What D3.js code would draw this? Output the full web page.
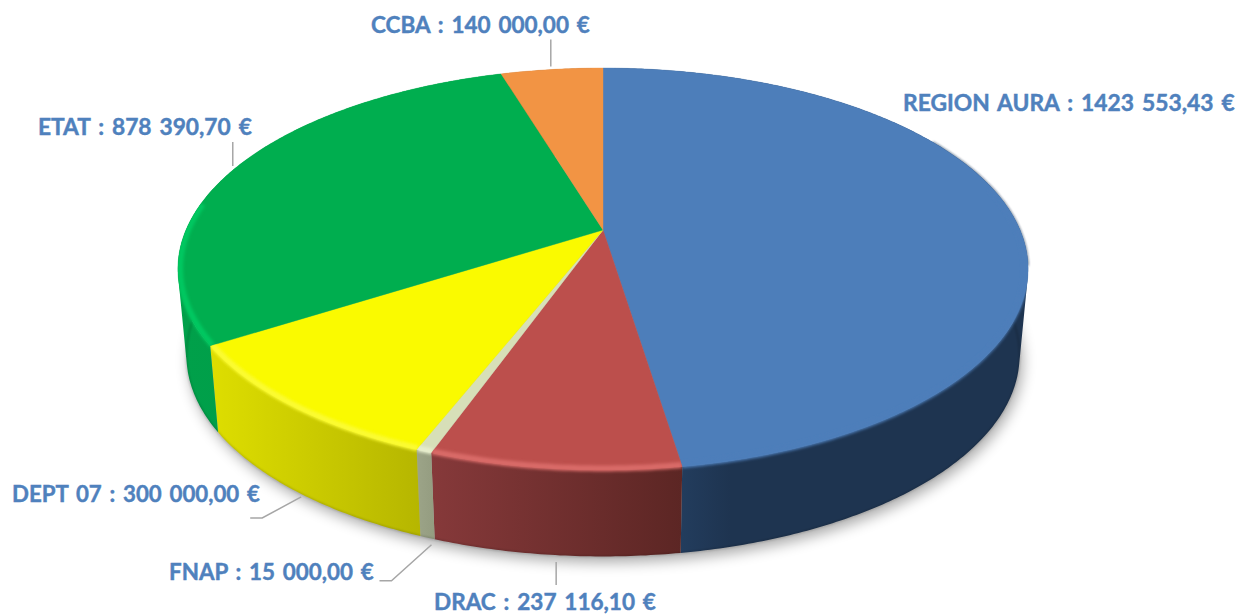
<!DOCTYPE html>
<html>
<head>
<meta charset="utf-8">
<style>html,body{margin:0;padding:0;background:#fff;overflow:hidden}svg{display:block}</style>
<script src="https://cdn.jsdelivr.net/npm/d3@7"></script>
</head>
<body>
<svg id="c" width="1238" height="614"></svg>
<script>
// ---- data ----
const categories = ["REGION AURA","DRAC","FNAP","DEPT 07","ETAT","CCBA"];
const amounts    = [1423553.43,237116.10,15000,300000,878390.70,140000];
const amountText = ["1423 553,43 €","237 116,10 €","15 000,00 €","300 000,00 €","878 390,70 €","140 000,00 €"];

// ---- style ----
const faceColors = ["#4d7eba","#bc4f4c","#d7dfb8","#fafa00","#00ae4f","#f29444"];
const rimColors  = ["#4d7eba","#d96a68","#e6edcc","#fbfb30","#00c860","#f29444"];
const sideStops  = [["#2a4a72","#1e3450"],["#86393a","#5c2624"],["#9ca488","#949c80"],["#dede00","#b6b600"],["#00a04a","#009a45"],["#b06a30","#b06a30"]];

// ---- layout ----
const W=1238, H=614;
const cx=603, cy=230, k=0.194, bx=417, by=193.4, depth=86.5, bottomScale=0.98;
const labelBoxes = [ // [left, right, baseline]
 [903,1235,111],[434,656,610],[169,374,580],[12,260,502],[38,252,135],[371,590,33]];
const leaders = [ // bends relative to the mid-angle anchor on the rim; onBase = anchor lies on bottom rim
 null,
 {onBase:true, pts:[[1,7],[1,30]]},
 {onBase:true, pts:[[4,7],[-36,43],[-48,43]]},
 {onBase:true, pts:[[4,5],[-35,26],[-47,26]]},
 {onBase:false,pts:[[-4,-1],[-4,-25]]},
 {onBase:false,pts:[[-1,-3],[-1,-30]]}];

const svg=d3.select("#c");
const defs=svg.append("defs");
const addBlur=(id,s)=>defs.append("filter").attr("id",id)
  .attr("filterUnits","userSpaceOnUse")
  .attr("x",0).attr("y",0).attr("width",W).attr("height",H)
  .append("feGaussianBlur").attr("stdDeviation",s);
addBlur("shadow",7); addBlur("rim",1.6); addBlur("edge",0.8);

const arcs=d3.pie().sort(null).value(d=>d)(amounts);

// Perspective projection of the unit disc to the picture plane
function topPt(a,r=1){
  const u=r*Math.sin(a), v=-r*Math.cos(a), d=1-k*v;
  return [cx+bx*u/d, cy+by*v/d];
}
function basePt(a){
  const p=topPt(a);
  return [cx+(p[0]-cx)*bottomScale, p[1]+depth];
}
const sample=(a0,a1,f,r)=>{
  const n=Math.max(2,Math.ceil((a1-a0)/0.01));
  return d3.range(n+1).map(i=>f(a0+(a1-a0)*i/n,r));
};
const pathLine=d3.line();
const orient=p=>d3.polygonArea(p)<0?p.slice().reverse():p;

// Wall of a slice as a union of small swept quads, so the silhouette stays solid
function wallPath(d){
  const t=sample(d.startAngle,d.endAngle,topPt), b=sample(d.startAngle,d.endAngle,basePt);
  return d3.range(t.length-1).map(i=>{
    const hull=d3.polygonHull([t[i],t[i+1],b[i+1],b[i]]);
    return hull?pathLine(orient(hull))+"Z":"";
  }).join("");
}
const facePath=d=>pathLine(orient([[cx,cy]].concat(sample(d.startAngle,d.endAngle,topPt))))+"Z";

// Ground shadow
svg.append("path")
  .attr("d",pathLine(sample(0,2*Math.PI,basePt))+"Z")
  .attr("transform","translate(3,6)")
  .attr("fill","#000").attr("opacity",0.33).attr("filter","url(#shadow)");

// Side gradients
arcs.forEach((d,i)=>{
  const g=defs.append("linearGradient").attr("id","side"+i)
    .attr("x1",0).attr("x2",1).attr("y1",0).attr("y2",0);
  const s=sideStops[i];
  if(i===0){
    g.append("stop").attr("offset",0.0).attr("stop-color",s[0]);
    g.append("stop").attr("offset",0.3).attr("stop-color",s[1]);
    g.append("stop").attr("offset",1).attr("stop-color",s[1]);
  } else {
    g.append("stop").attr("offset",0).attr("stop-color",s[0]);
    g.append("stop").attr("offset",1).attr("stop-color",s[1]);
  }
});

// Side walls
svg.append("g").selectAll("path").data(arcs).join("path")
  .attr("d",wallPath)
  .attr("fill",(d,i)=>`url(#side${i})`);

// Dark lower edge of the wall
svg.append("g").selectAll("path").data(arcs.slice(0,5)).join("path")
  .attr("d",d=>pathLine(sample(Math.max(d.startAngle,1.6),d.endAngle,basePt)))
  .attr("fill","none").attr("stroke","#000").attr("stroke-opacity",0.22)
  .attr("stroke-width",1.4).attr("filter","url(#edge)");

// Dark outer fringe on the far right of the disc
svg.append("path")
  .attr("d",pathLine(sample(arcs[0].startAngle+1.05,arcs[0].startAngle+1.75,topPt)))
  .attr("fill","none").attr("stroke","#1e3450").attr("stroke-width",1.6)
  .attr("stroke-opacity",0.7).attr("filter","url(#edge)");

// Top faces
svg.append("g").selectAll("path").data(arcs).join("path")
  .attr("d",facePath)
  .attr("fill",(d,i)=>faceColors[i])
  .attr("stroke",(d,i)=>faceColors[i]).attr("stroke-width",0.4);

// Soft bevel on the near rim
const nearStart=1.35, nearEnd=4.85;
const rimGroup=svg.append("g");
arcs.forEach((d,i)=>{
  const a0=Math.max(d.startAngle,nearStart), a1=Math.min(d.endAngle,nearEnd);
  if(a1<=a0) return;
  const cid="clipr"+i;
  defs.append("clipPath").attr("id",cid).append("path")
    .attr("d",facePath(d)+wallPath(d));
  rimGroup.append("path")
    .attr("clip-path",`url(#${cid})`)
    .attr("d",pathLine(sample(a0,a1,topPt,0.995)))
    .attr("fill","none").attr("stroke",rimColors[i]).attr("stroke-width",6)
    .attr("filter","url(#rim)");
});

// Leader lines, anchored to each slice's mid angle
svg.append("g").selectAll("path").data(arcs.map((d,i)=>({d,l:leaders[i]})).filter(o=>o.l)).join("path")
  .attr("d",o=>{
    const mid=(o.d.startAngle+o.d.endAngle)/2;
    const p=o.l.onBase?basePt(mid):topPt(mid);
    return pathLine(o.l.pts.map(q=>[p[0]+q[0],p[1]+q[1]]));
  })
  .attr("fill","none").attr("stroke","#a6a6a6").attr("stroke-width",1.5);

// Labels, squeezed horizontally to fit their measured boxes
svg.append("g").selectAll("text").data(categories).join("text")
  .attr("font-family","Lato, 'Open Sans', sans-serif")
  .attr("font-weight",700).attr("font-size",23.5)
  .attr("word-spacing",2.5)
  .attr("fill","#4f81bd").attr("stroke","#4f81bd").attr("stroke-width",0.45)
  .text((d,i)=>`${d} : ${amountText[i]}`)
  .attr("transform",function(d,i){
    const b=labelBoxes[i], sx=(b[1]-b[0])/this.getComputedTextLength();
    return `translate(${b[0]},${b[2]}) scale(${sx},1)`;
  });
</script>
</body>
</html>
